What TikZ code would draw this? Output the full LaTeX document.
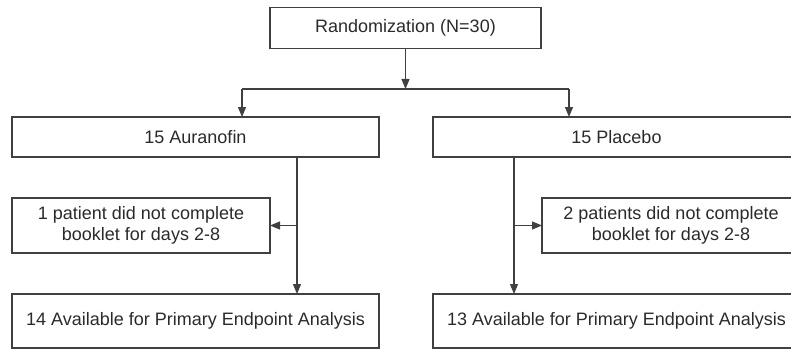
\documentclass[tikz,border=0pt]{standalone}
\usepackage{fontspec}
\setmainfont{Liberation Sans}
\usetikzlibrary{arrows.meta}
\definecolor{linecol}{HTML}{404040}
\definecolor{textcol}{HTML}{2A2A2A}
\begin{document}
\begin{tikzpicture}[x=1pt,y=-1pt,
  box/.style={draw=linecol,line width=1.1pt,outer sep=0pt,inner sep=0pt,
    text=textcol,align=center,font=\fontsize{18}{21.5}\selectfont},
  arr/.style={draw=linecol,line width=1.1pt,-{Triangle[length=10pt,width=8pt]}},
  ln/.style={draw=linecol,line width=1.1pt}]
\useasboundingbox (0,0) rectangle (791,350);
\node[box,minimum width=271pt,minimum height=41pt] (rand) at (405.5,28) {Randomization (N=30)};
\node[box,minimum width=367pt,minimum height=40pt] (aur) at (195.5,137) {15 Auranofin};
\node[box,minimum width=367pt,minimum height=40pt] (pla) at (616.5,137) {15 Placebo};
\node[box,minimum width=258pt,minimum height=55pt] (s1) at (141,225.5) {1 patient did not complete\\booklet for days 2-8};
\node[box,minimum width=258pt,minimum height=55pt] (s2) at (671,225.5) {2 patients did not complete\\booklet for days 2-8};
\node[box,minimum width=367pt,minimum height=54pt] (b1) at (195.5,321) {14 Available for Primary Endpoint Analysis};
\node[box,minimum width=367pt,minimum height=54pt] (b2) at (616.5,321) {13 Available for Primary Endpoint Analysis};
\coordinate (split) at (405.5,89);
\coordinate (sl) at (242,89);
\coordinate (sr) at (569,89);
\coordinate (lx) at (297,0);
\coordinate (rx) at (514,0);
\draw[arr] (rand.south) -- (split);
\draw[ln] (sl) -- (sr);
\draw[arr] (sl) -- (sl |- aur.north);
\draw[arr] (sr) -- (sr |- pla.north);
\draw[arr] (aur.south -| lx) -- (b1.north -| lx);
\draw[arr] (lx |- s1.east) -- (s1.east);
\draw[arr] (pla.south -| rx) -- (b2.north -| rx);
\draw[arr] (rx |- s2.west) -- (s2.west);
\end{tikzpicture}
\end{document}
